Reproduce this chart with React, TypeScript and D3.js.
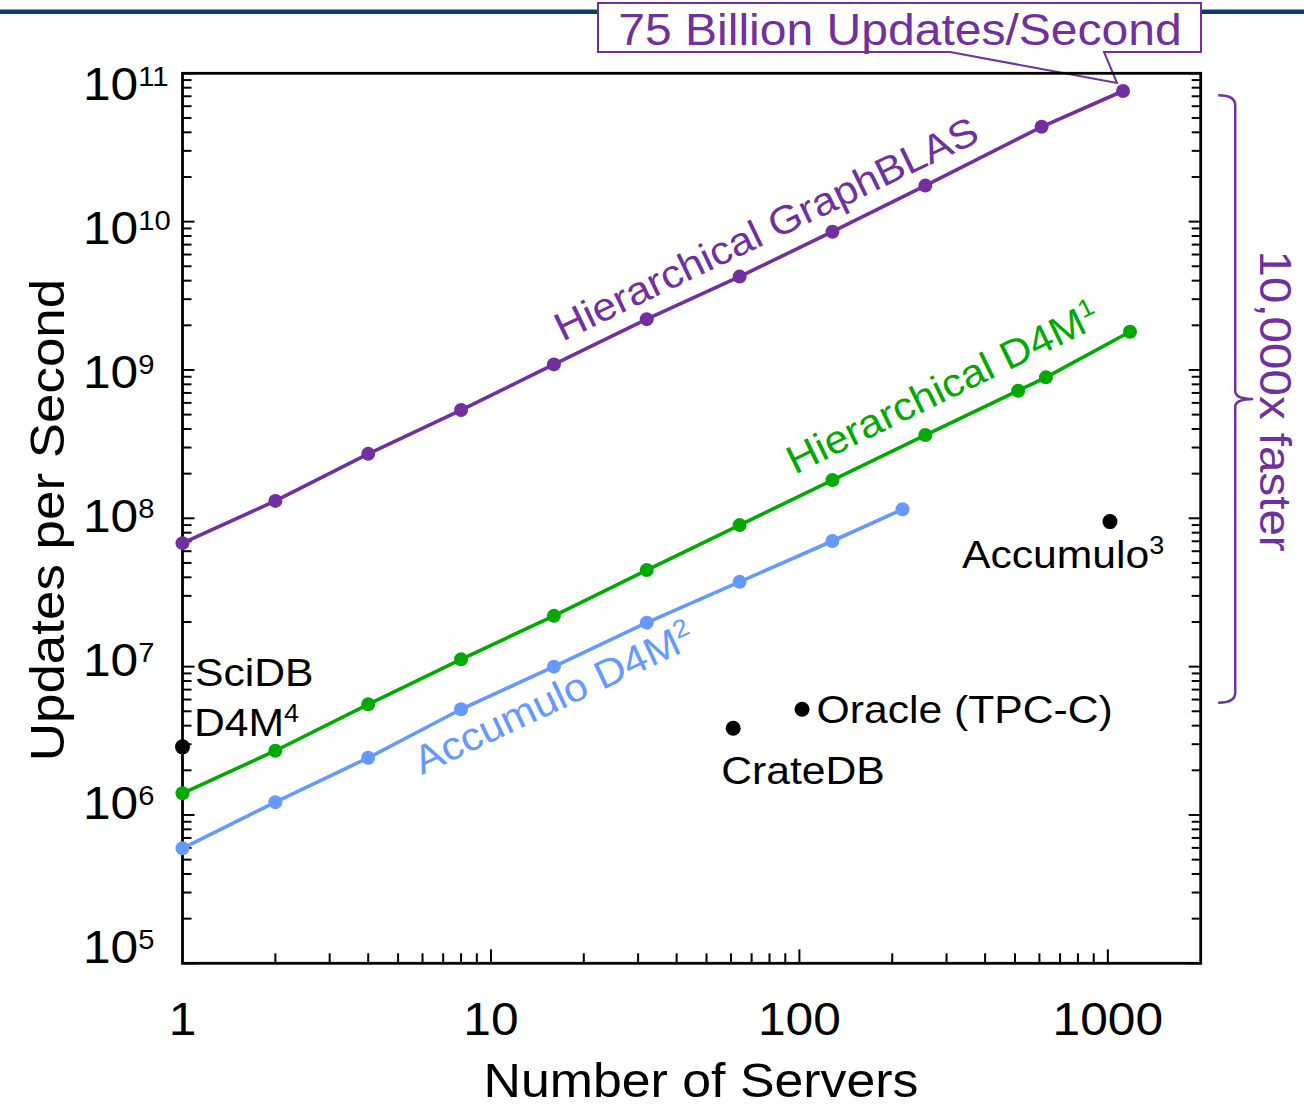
import React from 'react';
import * as d3 from 'd3';

// ---------- data ----------
const gbServers = [1, 2, 4, 8, 16, 32, 64, 128, 256, 610, 1120];
const gbRates = [6.8e7, 1.31e8, 2.72e8, 5.37e8, 1.09e9, 2.2e9, 4.26e9, 8.55e9, 1.75e10, 4.36e10, 7.6e10];
const d4mServers = [1, 2, 4, 8, 16, 32, 64, 128, 256, 512, 630, 1180];
const d4mRates = [1.4e6, 2.71e6, 5.57e6, 1.12e7, 2.2e7, 4.48e7, 9.0e7, 1.81e8, 3.64e8, 7.25e8, 8.92e8, 1.81e9];
const accServers = [1, 2, 4, 8, 16, 32, 64, 128, 216];
const accRates = [5.96e5, 1.22e6, 2.43e6, 5.16e6, 1.0e7, 1.98e7, 3.73e7, 7.03e7, 1.15e8];
const otherNames = ['SciDB', 'CrateDB', 'Oracle (TPC-C)', 'Accumulo'];
const otherServers = [1, 61, 102, 1016];
const otherRates = [2.88e6, 3.84e6, 5.16e6, 9.5e7];
const xTickValues = [1, 10, 100, 1000];
const xTickLabels = ['1', '10', '100', '1000'];
const yTickExponents = [5, 6, 7, 8, 9, 10, 11];
const bracketTop = 7.1e10;
const bracketBottom = 5.7e6;

// ---------- style ----------
const FONT = "'Liberation Sans', Arial, Helvetica, sans-serif";
const SX = 1.08;
const PURPLE = '#7030a0';
const GREEN = '#00aa00';
const BLUE = '#6699ff';
const NAVY = '#0e3c68';

function T({ x, y, rot = 0, size, fill = '#000', anchor = 'start', children }: any) {
  return (
    <text
      transform={`translate(${x},${y}) rotate(${rot}) scale(${SX},1)`}
      fontSize={size}
      fill={fill}
      textAnchor={anchor}
      fontFamily={FONT}
    >
      {children}
    </text>
  );
}

function interpLog(xs: number[], ys: number[], xv: number) {
  let i = 0;
  while (i < xs.length - 2 && xs[i + 1] < xv) i++;
  const t = (Math.log10(xv) - Math.log10(xs[i])) / (Math.log10(xs[i + 1]) - Math.log10(xs[i]));
  return Math.pow(10, Math.log10(ys[i]) + t * (Math.log10(ys[i + 1]) - Math.log10(ys[i])));
}

export default function App() {
  const left = 182.5, right = 1200.7, top = 73.3, bottom = 963.3;
  const x = d3.scaleLog().domain([1, 2000]).range([left, right]);
  const y = d3.scaleLog().domain([1e5, 1e11]).range([bottom, top]);
  const yLab = d3.scaleLog().domain([1e5, 1e11]).range([963.3, 100]);

  const line = d3
    .line<[number, number]>()
    .x((d) => x(d[0]))
    .y((d) => y(d[1]));

  const series = [
    { xs: gbServers, ys: gbRates, color: PURPLE, label: 'Hierarchical GraphBLAS', sup: '', at: 18.0, off: 16.7 },
    { xs: d4mServers, ys: d4mRates, color: GREEN, label: 'Hierarchical D4M', sup: '1', at: 103.6, off: 21.3 },
    { xs: accServers, ys: accRates, color: BLUE, label: 'Accumulo D4M', sup: '2', at: 5.25, off: -40.1 },
  ];

  // minor ticks
  const xMinor: number[] = [];
  for (let k = 0; k <= 3; k++) for (let m = 2; m <= 9; m++) { const v = m * Math.pow(10, k); if (v < 2000) xMinor.push(v); }
  const yMinor: number[] = [];
  for (let k = 5; k <= 10; k++) for (let m = 2; m <= 9; m++) yMinor.push(m * Math.pow(10, k));
  const yMajor = yTickExponents.map((e) => Math.pow(10, e));

  const labelOffsets: Record<string, any> = {
    SciDB: { dx: 12.5, dy: -61 },
    CrateDB: { dx: -12, dy: 56 },
    'Oracle (TPC-C)': { dx: 14.5, dy: 14 },
    Accumulo: { dx: -148, dy: 46.5 },
  };

  const bt = y(bracketTop), bb = y(bracketBottom), bm = y(Math.sqrt(bracketTop * bracketBottom));
  const bx = right + 34.5;

  const lastGB = [x(gbServers[gbServers.length - 1]), y(gbRates[gbRates.length - 1])];

  return (
    <svg width={1304} height={1108} style={{ position: 'absolute', left: 0, top: 0, background: '#fff' }}>
      <rect x={0} y={0} width={1304} height={1108} fill="#fff" />
      {/* header rule */}
      <rect x={0} y={9.5} width={1304} height={4.5} fill={NAVY} />

      {/* callout */}
      <path
        d={`M598,3 H1201 V52 H1104 L${lastGB[0] - 6},${lastGB[1] - 8} L950,52 H598 Z`}
        fill="#fff"
        stroke={PURPLE}
        strokeWidth={2}
      />
      <T x={900} y={45} size={44.5} fill={PURPLE} anchor="middle">75 Billion Updates/Second</T>

      {/* frame */}
      <rect x={left} y={top} width={right - left} height={bottom - top} fill="none" stroke="#000" strokeWidth={2.8} />

      {/* ticks */}
      <g stroke="#000" strokeWidth={2}>
        {xMinor.map((v) => (
          <line key={'xm' + v} x1={x(v)} x2={x(v)} y1={bottom} y2={bottom - 10} />
        ))}
        {xTickValues.slice(1).map((v) => (
          <line key={'xM' + v} x1={x(v)} x2={x(v)} y1={bottom} y2={bottom - 14} />
        ))}
        {yMinor.map((v) => (
          <g key={'ym' + v}>
            <line x1={left} x2={left + 9} y1={y(v)} y2={y(v)} />
            <line x1={right} x2={right - 9} y1={y(v)} y2={y(v)} />
          </g>
        ))}
        {yMajor.map((v) => (
          <g key={'yM' + v}>
            <line x1={left} x2={left + 12} y1={y(v)} y2={y(v)} />
            <line x1={right} x2={right - 12} y1={y(v)} y2={y(v)} />
          </g>
        ))}
      </g>

      {/* tick labels */}
      {xTickValues.map((v, i) => (
        <T key={'xl' + v} x={x(v)} y={1035} size={46} anchor="middle">{xTickLabels[i]}</T>
      ))}
      {yTickExponents.map((e) => (
        <T key={'yl' + e} x={83} y={yLab(Math.pow(10, e))} size={46}>
          <tspan>10</tspan>
          <tspan fontSize={27} dy={-14}>{String(e)}</tspan>
        </T>
      ))}

      {/* axis titles */}
      <T x={701} y={1097} size={48} anchor="middle">Number of Servers</T>
      <T x={64} y={520} rot={-90} size={49} anchor="middle">Updates per Second</T>

      {/* series lines */}
      {series.map((s) => (
        <path
          key={s.label}
          d={line(s.xs.map((v, i) => [v, s.ys[i]] as [number, number])) || ''}
          fill="none"
          stroke={s.color}
          strokeWidth={3.6}
        />
      ))}
      {series.map((s) =>
        s.xs.map((v, i) => <circle key={s.label + v} cx={x(v)} cy={y(s.ys[i])} r={7} fill={s.color} />)
      )}

      {/* series labels */}
      {series.map((s) => {
        const n = s.xs.length - 1;
        const ang = (Math.atan2(y(s.ys[n]) - y(s.ys[0]), x(s.xs[n]) - x(s.xs[0])) * 180) / Math.PI;
        const px = x(s.at);
        const py = y(interpLog(s.xs, s.ys, s.at));
        return (
          <text
            key={'lab' + s.label}
            transform={`translate(${px},${py}) rotate(${ang}) translate(0,${-s.off}) scale(${SX},1)`}
            fontSize={39.5}
            fill={s.color}
            fontFamily={FONT}
          >
            <tspan>{s.label}</tspan>
            {s.sup ? <tspan fontSize={25} dy={-14}>{s.sup}</tspan> : null}
          </text>
        );
      })}

      {/* other systems */}
      {otherNames.map((name, i) => {
        const cx = x(otherServers[i]);
        const cy = y(otherRates[i]);
        const o = labelOffsets[name];
        return (
          <g key={name}>
            <circle cx={cx} cy={cy} r={7.5} fill="#000" />
            {name === 'SciDB' ? (
              <>
                <T x={cx + o.dx} y={cy + o.dy} size={39.5}>SciDB</T>
                <T x={cx + o.dx - 1} y={cy + o.dy + 50.5} size={39.5}>
                  <tspan>D4M</tspan>
                  <tspan fontSize={25} dy={-14}>4</tspan>
                </T>
              </>
            ) : name === 'Accumulo' ? (
              <T x={cx + o.dx} y={cy + o.dy} size={39.5}>
                <tspan>Accumulo</tspan>
                <tspan fontSize={25} dy={-14}>3</tspan>
              </T>
            ) : (
              <T x={cx + o.dx} y={cy + o.dy} size={39.5}>{name}</T>
            )}
          </g>
        );
      })}

      {/* bracket */}
      <path
        d={`M${bx - 17},${bt} Q${bx},${bt} ${bx},${bt + 10} V${bm - 8} Q${bx},${bm} ${bx + 18},${bm} Q${bx},${bm} ${bx},${bm + 8} V${bb - 10} Q${bx},${bb} ${bx - 17},${bb}`}
        fill="none"
        stroke={PURPLE}
        strokeWidth={2.5}
      />
      <T x={1260} y={bm + 2} rot={90} size={44} fill={PURPLE} anchor="middle">10,000x faster</T>
    </svg>
  );
}
